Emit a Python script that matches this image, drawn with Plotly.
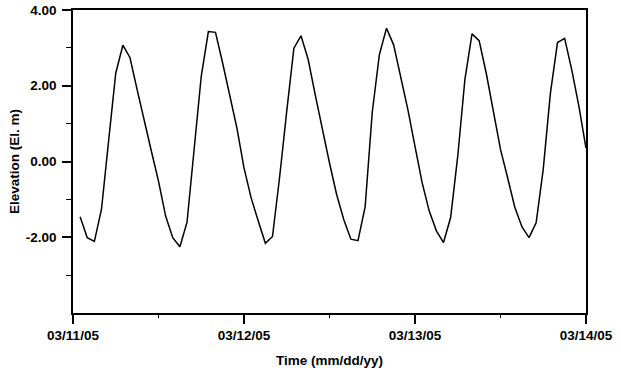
import pandas as pd
import plotly.graph_objects as go

# Hourly water surface elevation (El. m), 03/11/05 01:00 -> 03/14/05 00:00
elevation = [
    -1.46, -2.01, -2.11, -1.26, 0.55, 2.33, 3.07, 2.74, 1.90, 1.05,
    0.27, -0.52, -1.44, -2.01, -2.25, -1.61, 0.32, 2.25, 3.43, 3.41,
    2.60, 1.72, 0.89, -0.17, -0.96, -1.57, -2.16, -1.98, -0.41, 1.33,
    2.99, 3.32, 2.70, 1.76, 0.84, -0.04, -0.87, -1.53, -2.05, -2.09,
    -1.20, 1.30, 2.82, 3.52, 3.08, 2.25, 1.37, 0.40, -0.56, -1.31,
    -1.83, -2.14, -1.48, 0.14, 2.16, 3.37, 3.19, 2.33, 1.37, 0.32,
    -0.43, -1.20, -1.72, -2.01, -1.62, -0.20, 1.80, 3.14, 3.25, 2.42,
    1.46, 0.35,
]
times = pd.date_range("2005-03-11 01:00", periods=len(elevation), freq="h")

y_tickvals = [-2, 0, 2, 4]
y_ticktext = ["-2.00", "0.00", "2.00", "4.00"]
y_minor = [-3, -1, 1, 3]
x_tickvals = ["2005-03-11", "2005-03-12", "2005-03-13", "2005-03-14"]
x_ticktext = ["03/11/05", "03/12/05", "03/13/05", "03/14/05"]
x_minor = ["2005-03-11 12:00", "2005-03-12 12:00", "2005-03-13 12:00"]

font_family = "Liberation Sans, Arial, sans-serif"
tick_font = dict(family=font_family, size=13.5, color="black", weight="bold")

fig = go.Figure(
    go.Scatter(x=times, y=elevation, mode="lines",
               line=dict(color="black", width=1.5), showlegend=False)
)

fig.update_layout(
    width=621, height=372,
    margin=dict(l=73, r=35, t=10, b=59, autoexpand=False),
    paper_bgcolor="white", plot_bgcolor="white",
    font=dict(family=font_family, color="black"),
)

fig.update_xaxes(
    type="date", automargin=False,
    range=["2005-03-11", "2005-03-14"],
    tickmode="array", tickvals=x_tickvals, ticktext=x_ticktext,
    ticks="outside", ticklen=9, tickwidth=1.5, tickcolor="black",
    minor=dict(tickmode="array", tickvals=x_minor, ticks="outside",
               ticklen=3, tickwidth=1, tickcolor="black"),
    showline=True, linecolor="black", linewidth=1.5, mirror=True,
    showgrid=False, zeroline=False,
    tickfont=tick_font, ticklabelstandoff=0,
    title=dict(text="Time (mm/dd/yy)",
               font=dict(family=font_family, size=13.5, color="black", weight="bold"),
               standoff=14),
)

fig.update_yaxes(
    automargin=False,
    range=[-4, 4],
    tickmode="array", tickvals=y_tickvals, ticktext=y_ticktext,
    ticks="outside", ticklen=9, tickwidth=1.5, tickcolor="black",
    minor=dict(tickmode="array", tickvals=y_minor, ticks="outside",
               ticklen=5, tickwidth=1, tickcolor="black"),
    showline=True, linecolor="black", linewidth=1.5, mirror=True,
    showgrid=False, zeroline=False,
    tickfont=tick_font, ticklabelstandoff=3,
    title=dict(text="Elevation (El. m)",
               font=dict(family=font_family, size=13.5, color="black", weight="bold"),
               standoff=3),
)

# remove the browser's default 8px page margin so the figure sits at (0, 0)
fig.write_html(
    "out.html",
    config={"displayModeBar": False},
    post_script="document.body.style.margin='0';document.body.style.overflow='hidden';",
)
